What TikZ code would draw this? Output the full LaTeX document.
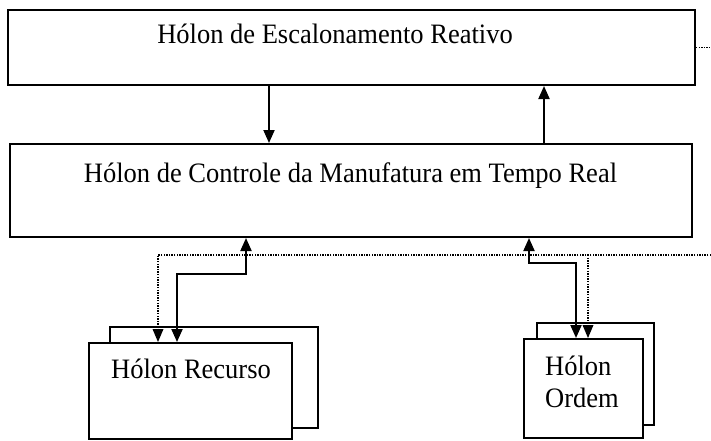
\documentclass[tikz,border=0pt]{standalone}
\usepackage{fontspec}
\setmainfont{Liberation Serif}
\usetikzlibrary{arrows.meta}
\newcommand{\tallt}[1]{\scalebox{1}[1.06]{#1}}
\tikzset{
  box/.style={draw=black, line width=2pt, fill=white, inner sep=0pt},
  lbl/.style={font=\fontsize{26.5}{32}\selectfont, inner sep=0pt},
  tip/.tip={Triangle[length=13pt,width=11pt]},
  arr/.style={line width=2pt, -tip},
  darr/.style={line width=2pt, tip-tip},
  dot/.style={line width=1.4pt, dash pattern=on 1.4pt off 1.2pt},
  dotarr/.style={dot, -{Triangle[length=13pt,width=11pt,line width=0pt]}}
}
\begin{document}
\begin{tikzpicture}[x=1pt,y=-1pt]
\useasboundingbox (0,0) rectangle (711,440);
% boxes
\node[box, minimum width=687pt, minimum height=75pt] (top) at (351.5,47.5) {};
\node[box, minimum width=682pt, minimum height=93pt] (mid) at (351,190.5) {};
\node[box, minimum width=208pt, minimum height=101pt] (recB) at (214,377.5) {};
\node[box, minimum width=203pt, minimum height=96pt] (recF) at (190.5,391) {};
\node[box, minimum width=117pt, minimum height=102pt] (ordB) at (595.5,374) {};
\node[box, minimum width=119pt, minimum height=99pt] (ordF) at (583.5,388.5) {};
% texts
\node[lbl, anchor=base] (ttop) at (335,43) {\tallt{Hólon de Escalonamento Reativo}};
\node[lbl, anchor=base] (tmid) at (350.5,182) {\tallt{Hólon de Controle da Manufatura em Tempo Real}};
\node[lbl, anchor=base] (trec) at (191,378) {\tallt{Hólon Recurso}};
\node[lbl, anchor=base west] (tord1) at (545,375) {\tallt{Hólon}};
\node[lbl, anchor=base west] (tord2) at (545,407) {\tallt{Ordem}};
% coordinates
\coordinate (xa) at (269,0);
\coordinate (xb) at (544,0);
\coordinate (xr1) at (158,0);
\coordinate (xr2) at (177,0);
\coordinate (xr3) at (246,0);
\coordinate (xo1) at (529,0);
\coordinate (xo2) at (576,0);
\coordinate (xo3) at (588,0);
\coordinate (edgeA) at (711,47.5);
\coordinate (edgeB) at (711,255);
\coordinate (yr) at (0,274);
\coordinate (yo) at (0,263);
% connectors top-mid
\draw[arr] (top.south -| xa) -- (mid.north -| xa);
\draw[arr] (mid.north -| xb) -- (top.south -| xb);
% dotted lines
\draw[dot] (top.east) -- (edgeA);
\draw[dotarr] (edgeB) -- (edgeB -| xr1) -- (recF.north -| xr1);
\draw[dotarr] (edgeB -| xo3) -- (ordF.north -| xo3);
% solid double arrows
\draw[darr] (recF.north -| xr2) -- (yr -| xr2) -- (yr -| xr3) -- (mid.south -| xr3);
\draw[darr] (mid.south -| xo1) -- (yo -| xo1) -- (yo -| xo2) -- (ordF.north -| xo2);
\end{tikzpicture}
\end{document}
